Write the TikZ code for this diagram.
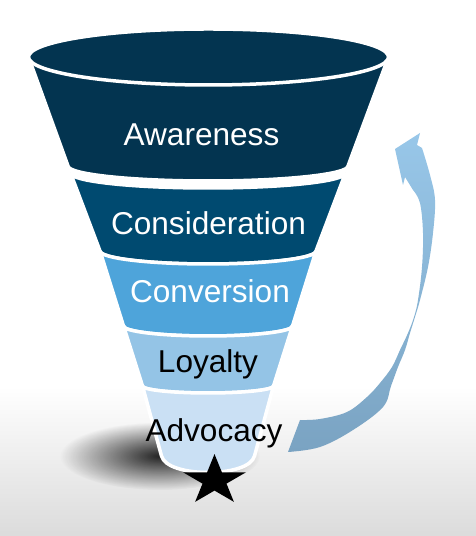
\documentclass[tikz,border=0pt]{standalone}
\usepackage{fontspec}
\setmainfont{Liberation Sans}
\usetikzlibrary{fadings}
\definecolor{awareBlue}{RGB}{3,52,80}
\definecolor{considBlue}{RGB}{0,74,112}
\definecolor{conversBlue}{RGB}{78,164,218}
\definecolor{loyalBlue}{RGB}{148,196,230}
\definecolor{advocBlue}{RGB}{202,224,244}
\definecolor{arrowTop}{RGB}{152,199,233}
\definecolor{arrowBottom}{RGB}{122,163,194}
\newcommand{\stageFont}{\fontsize{31.7}{38}\selectfont}
\tikzfading[name=shadowfade, inner color=transparent!0, outer color=transparent!100]

\begin{document}
\begin{tikzpicture}[x=1bp,y=1bp,
  stage/.style={draw=white, line width=3.5bp},
  stagelabel/.style={font=\stageFont, anchor=base, inner sep=0pt}]
\useasboundingbox (0,0) rectangle (476,536);
\shade[top color=white, bottom color=black!14] (0,0) rectangle (476,150);
\fill[black, opacity=.85, path fading=shadowfade, fading transform={rotate=-10}] (160,80) ellipse [x radius=100, y radius=34];
\shade[top color=arrowTop, bottom color=arrowBottom]
  plot[smooth, tension=0.6] coordinates {(288,84) (320,89) (353,106) (383,129) (391,150) (398,169) (405,186) (410,203) (415,219) (420,236) (428,269) (433,303) (435,336) (430,361) (422,388)}
  -- (417,391) -- (420,403) -- (395,387) -- (403,351) -- (405,359)
  -- plot[smooth, tension=0.6] coordinates {(413,346) (420,333) (423,303) (422,269) (418,236) (414,219) (408,203) (400,186) (392,169) (380,153) (367,139) (347,124) (320,117) (300,116)}
  -- cycle;
\fill[awareBlue, stage] (28.5,479) -- (68,370) arc[start angle=180, end angle=360, x radius=140, y radius=15] -- (388.5,479) -- cycle;
\fill[awareBlue, stage] (208.5,479) ellipse [x radius=180, y radius=28];
\fill[considBlue, stage] (70.5,363) arc[start angle=180, end angle=360, x radius=137.5, y radius=15] -- (316,285) arc[start angle=0, end angle=-180, x radius=108, y radius=13] -- cycle;
\fill[conversBlue, stage] (100,285) arc[start angle=180, end angle=360, x radius=108, y radius=13] -- (292.5,210) arc[start angle=0, end angle=-180, x radius=84.5, y radius=10] -- cycle;
\fill[loyalBlue, stage] (123.5,210) arc[start angle=180, end angle=360, x radius=84.5, y radius=10] -- (273.5,150) arc[start angle=0, end angle=-180, x radius=65.5, y radius=7] -- cycle;
\fill[advocBlue, stage] (142.5,150) arc[start angle=180, end angle=360, x radius=65.5, y radius=7] -- (254.5,80) .. controls (249,58) and (167,58) .. (161.5,80) -- cycle;
\fill[black, shift={(214.5,55.5)}, yscale=0.8] (90:33) -- (126:12.6) -- (162:33) -- (198:12.6) -- (234:33) -- (270:12.6) -- (306:33) -- (342:12.6) -- (18:33) -- (54:12.6) -- cycle;
\node[stagelabel, text=white] (aware) at (201.5,390) {Awareness};
\node[stagelabel, text=white] (consid) at (208.5,301) {Consideration};
\node[stagelabel, text=white] (convers) at (210,233) {Conversion};
\node[stagelabel, text=black] (loyal) at (208,163) {Loyalty};
\node[stagelabel, text=black] (advoc) at (214,94) {Advocacy};
\end{tikzpicture}
\end{document}
